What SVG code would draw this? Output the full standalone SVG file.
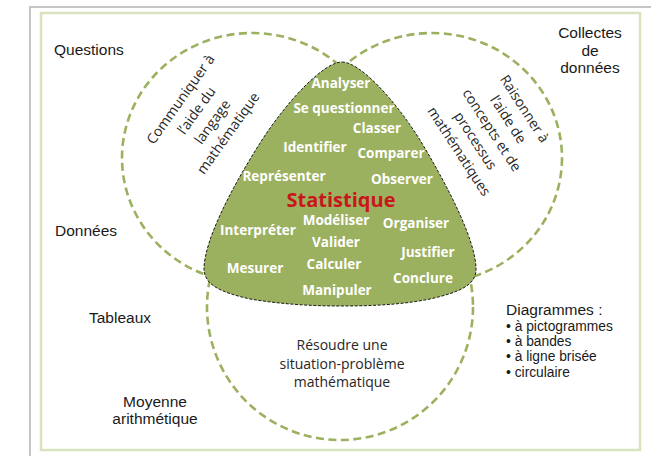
<svg xmlns="http://www.w3.org/2000/svg" width="651" height="456" viewBox="0 0 651 456">
<defs>
<style>
.bg{fill:#ffffff}
.frame-outer{fill:none;stroke:#b3b3b3;stroke-width:1.5}
.frame-inner{fill:none;stroke:#d7e4bd;stroke-width:2.5}
.set{fill:none;stroke:#9cb15f;stroke-width:2.6;stroke-dasharray:8 4.5}
.core{fill:#9cb15f;stroke:#1a1a1a;stroke-width:1;stroke-dasharray:3 1.6}
.lbl{font-family:"Liberation Sans",Arial,sans-serif;font-size:15.5px;fill:#1a1a1a}
.lbl-c{font-family:"Liberation Sans",Arial,sans-serif;font-size:15.5px;fill:#1a1a1a;text-anchor:middle}
.bul{font-family:"Liberation Sans",Arial,sans-serif;font-size:13.8px;fill:#1a1a1a}
.rot{font-family:"Open Sans","Noto Sans",sans-serif;font-size:14px;fill:#262626;text-anchor:middle}
.verb{font-family:"Open Sans","Noto Sans",sans-serif;font-size:13.5px;font-weight:bold;fill:#ffffff;text-anchor:middle}
.title{font-family:"Open Sans","Noto Sans",sans-serif;font-size:20px;font-weight:bold;fill:#c8161d;text-anchor:middle}
</style>
</defs>
<rect class="bg" x="0" y="0" width="651" height="456"/>
<g id="frame">
<path class="frame-outer" d="M30,456 V7 H651"/>
<rect class="frame-inner" x="41" y="13" width="599" height="437"/>
</g>
<g id="set-communiquer">
<ellipse class="set" cx="252" cy="158" rx="130" ry="125"/>
<g transform="translate(204,116) rotate(-54.5)">
<text class="rot" x="0" y="-24">Communiquer à</text>
<text class="rot" x="0" y="-4.5">l’aide du</text>
<text class="rot" x="0" y="15">langage</text>
<text class="rot" x="0" y="34.5">mathématique</text>
</g>
</g>
<g id="set-raisonner">
<ellipse class="set" cx="432" cy="158" rx="130" ry="125"/>
<g transform="translate(492,130) rotate(57)">
<text class="rot" x="0" y="-34">Raisonner à</text>
<text class="rot" x="0" y="-14.5">l’aide de</text>
<text class="rot" x="0" y="5">concepts et de</text>
<text class="rot" x="0" y="24.5">processus</text>
<text class="rot" x="0" y="44">mathématiques</text>
</g>
</g>
<g id="set-resoudre">
<ellipse class="set" cx="340" cy="307" rx="133" ry="133"/>
<text class="rot" x="342" y="350">Résoudre une</text>
<text class="rot" x="342" y="368.5">situation-problème</text>
<text class="rot" x="342" y="387">mathématique</text>
</g>
<g id="core-statistique">
<path class="core" d="M342,62 C360,62 395,100 420,140 C450,190 475,240 476,268 C477,285 460,292 430,299 C400,305 370,306 340,306 C310,306 280,304 250,299 C220,292 204,285 204,268 C205,240 230,190 262,140 C288,100 324,62 342,62 Z"/>
<text class="title" x="341" y="206.5">Statistique</text>
<text class="verb" x="341" y="88">Analyser</text>
<text class="verb" x="344" y="113">Se questionner</text>
<text class="verb" x="377" y="133">Classer</text>
<text class="verb" x="315" y="152">Identifier</text>
<text class="verb" x="391" y="158">Comparer</text>
<text class="verb" x="284" y="181">Représenter</text>
<text class="verb" x="402" y="183.5">Observer</text>
<text class="verb" x="336" y="225">Modéliser</text>
<text class="verb" x="416" y="228">Organiser</text>
<text class="verb" x="258" y="235">Interpréter</text>
<text class="verb" x="336" y="246.5">Valider</text>
<text class="verb" x="428" y="257">Justifier</text>
<text class="verb" x="334" y="268.5">Calculer</text>
<text class="verb" x="255" y="273">Mesurer</text>
<text class="verb" x="423" y="283">Conclure</text>
<text class="verb" x="337" y="295">Manipuler</text>
</g>
<g id="label-questions"><text class="lbl" x="54" y="55">Questions</text></g>
<g id="label-donnees"><text class="lbl" x="55" y="236">Données</text></g>
<g id="label-tableaux"><text class="lbl" x="89" y="323">Tableaux</text></g>
<g id="label-moyenne">
<text class="lbl-c" x="155" y="407">Moyenne</text>
<text class="lbl-c" x="155" y="424">arithmétique</text>
</g>
<g id="label-collectes">
<text class="lbl-c" x="590" y="38">Collectes</text>
<text class="lbl-c" x="590" y="55.5">de</text>
<text class="lbl-c" x="590" y="73">données</text>
</g>
<g id="label-diagrammes">
<text class="lbl" x="506" y="315">Diagrammes :</text>
<text class="bul" x="506" y="330.5">• à pictogrammes</text>
<text class="bul" x="506" y="345.5">• à bandes</text>
<text class="bul" x="506" y="361">• à ligne brisée</text>
<text class="bul" x="506" y="376.5">• circulaire</text>
</g>
<g id="connectors"/>
</svg>
